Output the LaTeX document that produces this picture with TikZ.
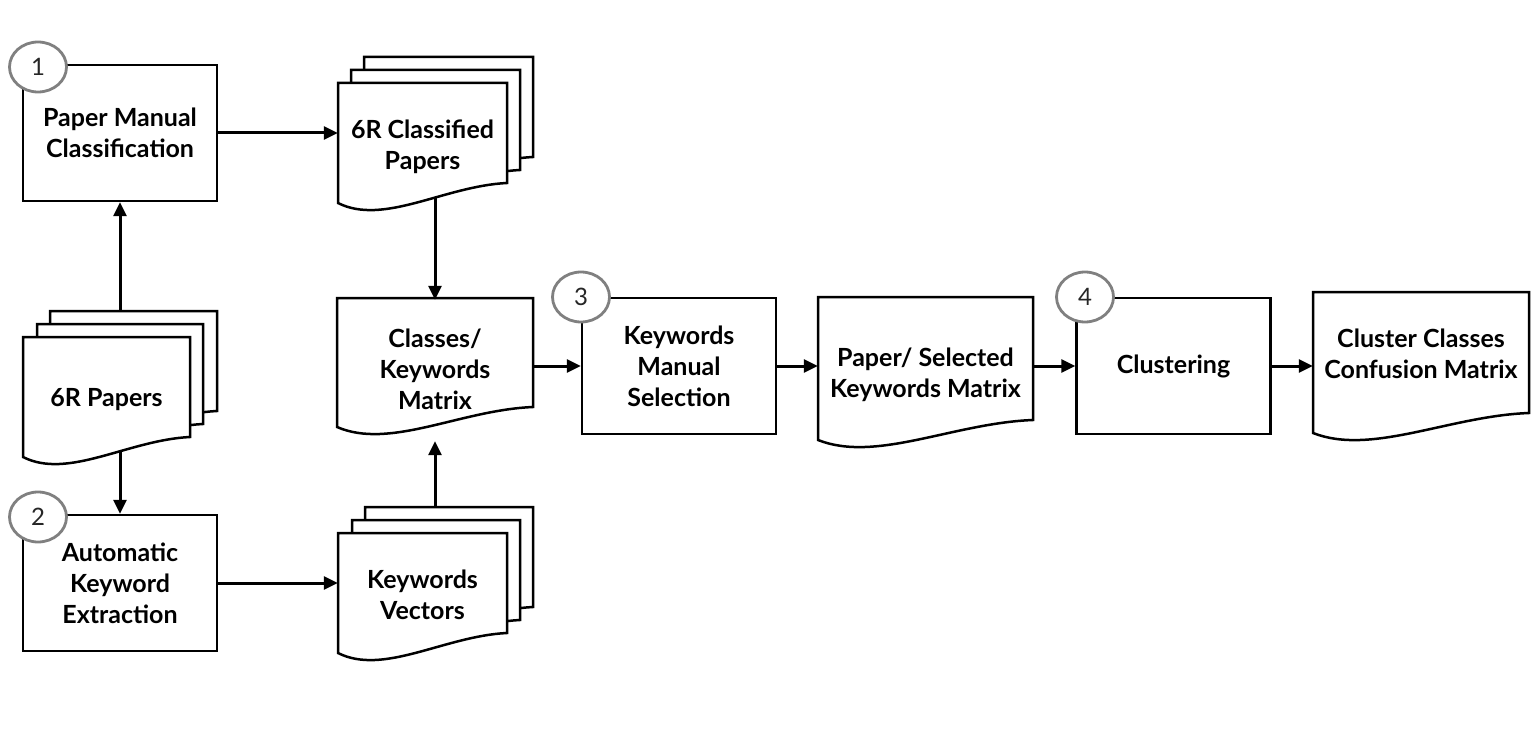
\documentclass[tikz,border=0pt]{standalone}
\usepackage{fontspec}
\setmainfont{Lato}
\usetikzlibrary{arrows.meta,shapes.geometric}
\tikzset{
 boxline/.style={draw=black,line width=2.5pt,fill=white,line join=miter},
 txt/.style={align=center,inner sep=0pt,font=\fontsize{25}{31}\selectfont\bfseries},
 procbox/.style={boxline,txt,minimum width=194pt,minimum height=136pt},
 docnode/.style={txt,draw=none},
 numcirc/.style={ellipse,draw=black!50,line width=2.8pt,fill=white,minimum width=57pt,minimum height=50pt,inner sep=0pt,font=\fontsize{24}{24}\selectfont,text=black!85},
 conn/.style={line width=3pt,-{Triangle[length=14pt,width=13pt]}},
}
\newcommand\docshape[4]{\path[boxline] (#1,#2) -- (#3,#2) -- (#3,#4-20) .. controls ({#1+0.63*(#3-#1)},#4-17) and ({#1+0.27*(#3-#1)},#4+23) .. (#1,#4) -- cycle;}
\begin{document}
\begin{tikzpicture}[x=1pt,y=-1pt]
\useasboundingbox[fill=white] (0,0) rectangle (1540,738);
% document stacks (back layers first)
\docshape{364}{57}{533}{177}
\docshape{351}{70}{520}{190}
\docshape{338}{83}{507}{203}
\docshape{50}{311}{217}{431}
\docshape{37}{324}{203}{444}
\docshape{23}{337}{190}{457}
\docshape{365}{507}{533}{627}
\docshape{352}{520}{520}{640}
\docshape{338}{533}{507}{653}
% single documents
\docshape{337}{298}{533}{427}
\docshape{818}{297}{1033}{440}
\docshape{1313}{292}{1529}{433}
% document texts
\node[docnode,minimum width=169pt,minimum height=124pt] (cp) at (422.5,147) {6R Classified\\Papers};
\node[docnode,minimum width=167pt,minimum height=122pt] (pp) at (106.5,400) {6R Papers};
\node[docnode,minimum width=169pt,minimum height=120pt] (kv) at (422.5,595) {Keywords\\Vectors};
\node[docnode,minimum width=196pt,minimum height=139pt] (ckm) at (435,369.5) {Classes/\\Keywords\\Matrix};
\node[docnode,minimum width=215pt,minimum height=152pt] (pskm) at (925.5,375) {Paper/ Selected\\Keywords Matrix};
\node[docnode,minimum width=216pt,minimum height=120pt] (cccm) at (1421,354) {Cluster Classes\\Confusion Matrix};
% process boxes
\node[procbox] (b1) at (120,133) {Paper Manual\\Classification};
\node[procbox] (b2) at (120,583) {Automatic\\Keyword\\Extraction};
\node[procbox] (kms) at (679,366) {Keywords\\Manual\\Selection};
\node[procbox] (clu) at (1173.5,366) {Clustering};
% step numbers
\node[numcirc] (c1) at (38,67) {1};
\node[numcirc] (c2) at (38,517) {2};
\node[numcirc] (c3) at (581,297) {3};
\node[numcirc] (c4) at (1085,297) {4};
% connectors
\coordinate (pptop) at (120,311);
\coordinate (ppbot) at (120,452);
\coordinate (cpbot) at (435,198);
\coordinate (kvtop) at (435,507);
\draw[conn] (b1.east) -- (b1.east -| cp.west);
\draw[conn] (pptop) -- (b1.south);
\draw[conn] (ppbot) -- (b2.north);
\draw[conn] (b2.east) -- (b2.east -| kv.west);
\draw[conn] (cpbot) -- (ckm.north);
\draw[conn] (kvtop) -- ([yshift=-2pt]ckm.south);
\draw[conn] (kms.west -| ckm.east) -- (kms.west);
\draw[conn] (kms.east) -- (kms.east -| pskm.west);
\draw[conn] (clu.west -| pskm.east) -- (clu.west);
\draw[conn] (clu.east) -- (clu.east -| cccm.west);
\end{tikzpicture}
\end{document}
